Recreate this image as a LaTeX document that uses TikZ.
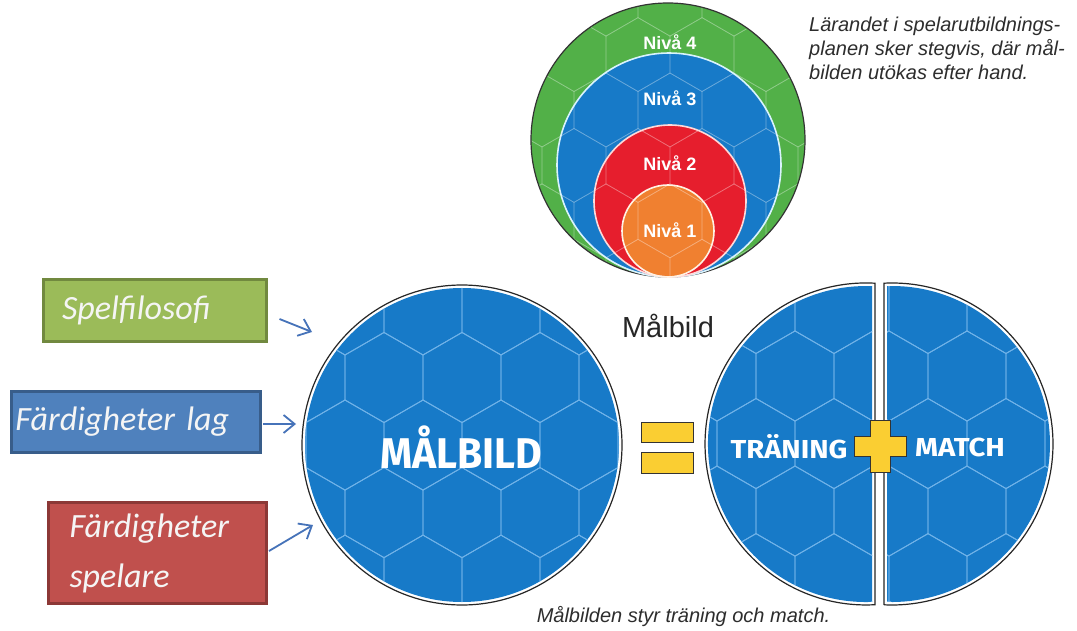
\documentclass[tikz,border=0pt]{standalone}
\usepackage{fontspec}
\setmainfont{Liberation Sans}
\newfontfamily\calfont{Carlito}
\newfontfamily\dispfont{Fira Sans}
\usetikzlibrary{arrows.meta}
\definecolor{mblue}{RGB}{23,122,200}
\definecolor{hexc}{RGB}{112,178,232}
\definecolor{tgreen}{RGB}{82,176,72}
\definecolor{tred}{RGB}{230,30,45}
\definecolor{torange}{RGB}{240,128,48}
\definecolor{myellow}{RGB}{250,206,50}
\definecolor{bgreen}{RGB}{155,187,89}
\definecolor{bgreenD}{RGB}{113,137,63}
\definecolor{bblue}{RGB}{79,129,189}
\definecolor{bblueD}{RGB}{56,93,138}
\definecolor{bred}{RGB}{192,80,77}
\definecolor{bredD}{RGB}{140,56,54}
\definecolor{arrc}{RGB}{70,115,185}
\definecolor{txtgray}{RGB}{45,45,45}
\newcommand\hexgridAt[4]{%
  \pgfmathsetmacro\hexS{#3*0.57735}%
  \pgfmathsetmacro\hexR{1.5*\hexS}%
  \foreach \j in {-5,...,5}{%
    \foreach \k in {-5,...,5}{%
      \pgfmathsetmacro\hx{#1+#3*\k+0.5*#3*mod(abs(\j),2)}%
      \pgfmathsetmacro\hy{#2+\hexR*\j}%
      \draw[#4] (\hx,\hy) +(30:\hexS) -- +(90:\hexS) -- +(150:\hexS) -- +(210:\hexS) -- +(270:\hexS) -- +(330:\hexS) -- cycle;
    }}}
\begin{document}
\begin{tikzpicture}[x=1pt,y=-1pt,
  hexline/.style={draw=hexc,line width=0.9},
  hexfaint/.style={draw=white,opacity=0.2,line width=0.8},
  infobox/.style={line width=3,text=white!96!black,inner ysep=0,font=\calfont\itshape\fontsize{34}{50}\selectfont,align=left},
  arr/.style={draw=arrc,line width=1.8,-{Straight Barb[length=11pt,width=18pt,line width=1.8pt]}},
  bigword/.style={text=white,inner sep=0},
  nivalabel/.style={text=white,font=\bfseries\fontsize{18}{18}\selectfont,inner sep=0},
  yel/.style={fill=myellow,draw=black!80,line width=1}
]
\useasboundingbox (0,0) rectangle (1077,631);
\fill[white] (0,0) rectangle (1077,631);

% ---------- top nested circles ----------
\fill[tgreen] (668,140) circle[radius=137];
\fill[mblue] (669,165) circle[radius=112];
\fill[tred] (670,201) circle[radius=76];
\fill[torange] (668,231) circle[radius=46];
\begin{scope}
  \clip (668,140) circle[radius=137];
  \hexgridAt{670}{110}{64}{hexfaint}
\end{scope}
\draw[black!80,line width=1.2] (668,140) circle[radius=137];
\draw[white!85!cyan,line width=1.6] (669,165) circle[radius=112];
\draw[white!85!red,line width=1.6] (670,201) circle[radius=76];
\draw[white!90!orange,line width=1.6] (668,231) circle[radius=46];
\node[nivalabel] (n4) at (670,42) {Nivå 4};
\node[nivalabel] (n3) at (670,98) {Nivå 3};
\node[nivalabel] (n2) at (670,163) {Nivå 2};
\node[nivalabel] (n1) at (670,230) {Nivå 1};

\node[anchor=north west,align=left,inner sep=0,text=txtgray,font=\itshape\fontsize{20}{24}\selectfont] (intro) at (809,17)
  {Lärandet i spelarutbildnings-\\planen sker stegvis, där mål-\\bilden utökas efter hand.};

% ---------- big circle ----------
\node[circle,draw=black!85,line width=1.2,fill=white,minimum size=320,inner sep=0] (mb) at (462,445) {};
\fill[mblue] (462,445) circle[radius=157];
\begin{scope}
  \clip (462,445) circle[radius=157];
  \hexgridAt{462}{377.5}{78}{hexline}
\end{scope}
\node[bigword] (mbtext) at (461,447) {\dispfont\bfseries\fontsize{43}{43}\selectfont\resizebox{162pt}{\height}{MÅLBILD}};

\node[inner sep=0,font=\fontsize{29}{29}\selectfont,text=black!85] (mlabel) at (668,326) {Målbild};

% ---------- equals sign ----------
\node[yel,minimum width=52,minimum height=20,inner sep=0] (eq1) at (667,432) {};
\node[yel,minimum width=52,minimum height=21,inner sep=0] (eq2) at (667,462.5) {};

% ---------- split circle ----------
\draw[black!85,line width=1.2,fill=white] (875,283.3) -- (875,604.7) arc[start angle=86.8,end angle=273.2,radius=161] -- cycle;
\fill[mblue] (872,286.1) -- (872,601.9) arc[start angle=87.8,end angle=272.2,radius=158] -- cycle;
\begin{scope}
  \clip (872,286.1) -- (872,601.9) arc[start angle=87.8,end angle=272.2,radius=158] -- cycle;
  \hexgridAt{795}{376}{78}{hexline}
\end{scope}
\draw[black!85,line width=1.2,fill=white] (884,604.8) -- (884,283.2) arc[start angle=-92.85,end angle=92.85,radius=161] -- cycle;
\fill[mblue] (887,601.9) -- (887,286.1) arc[start angle=-91.81,end angle=91.81,radius=158] -- cycle;
\begin{scope}
  \clip (887,601.9) -- (887,286.1) arc[start angle=-91.81,end angle=91.81,radius=158] -- cycle;
  \hexgridAt{967}{376}{78}{hexline}
\end{scope}
\draw[yel] (870,420) -- (890,420) -- (890,436) -- (906,436) -- (906,456) -- (890,456) -- (890,472) -- (870,472) -- (870,456) -- (854,456) -- (854,436) -- (870,436) -- cycle;
\node[bigword] (tr) at (789,447) {\dispfont\bfseries\fontsize{26}{26}\selectfont\resizebox{117pt}{\height}{TRÄNING}};
\node[bigword] (ma) at (960,447) {\dispfont\bfseries\fontsize{26}{26}\selectfont\resizebox{90pt}{\height}{MATCH}};

\node[inner sep=0,text=txtgray,font=\itshape\fontsize{20}{20}\selectfont] (caption) at (683.5,617) {Målbilden styr träning och match.};

% ---------- left boxes ----------
\node[infobox,draw=bgreenD,fill=bgreen,inner xsep=19,text width=185,minimum height=62] (sp) at (154.5,310.5) {Spelfilosofi};
\node[infobox,draw=bblueD,fill=bblue,inner xsep=4,text width=241,minimum height=61] (fl) at (136,422) {Färdigheter lag};
\node[infobox,draw=bredD,fill=bred,inner xsep=21,text width=176,minimum height=101] (fs) at (157.5,553) {Färdigheter\\spelare};

\coordinate (e1) at (312,332);
\coordinate (e2) at (296,424);
\coordinate (e3) at (313,525);
\draw[arr] ([shift={(12,8.5)}]sp.east) -- (e1);
\draw[arr] ([shift={(1,2)}]fl.east) -- (e2);
\draw[arr] ([shift={(1,-2)}]fs.east) -- (e3);
\end{tikzpicture}
\end{document}
